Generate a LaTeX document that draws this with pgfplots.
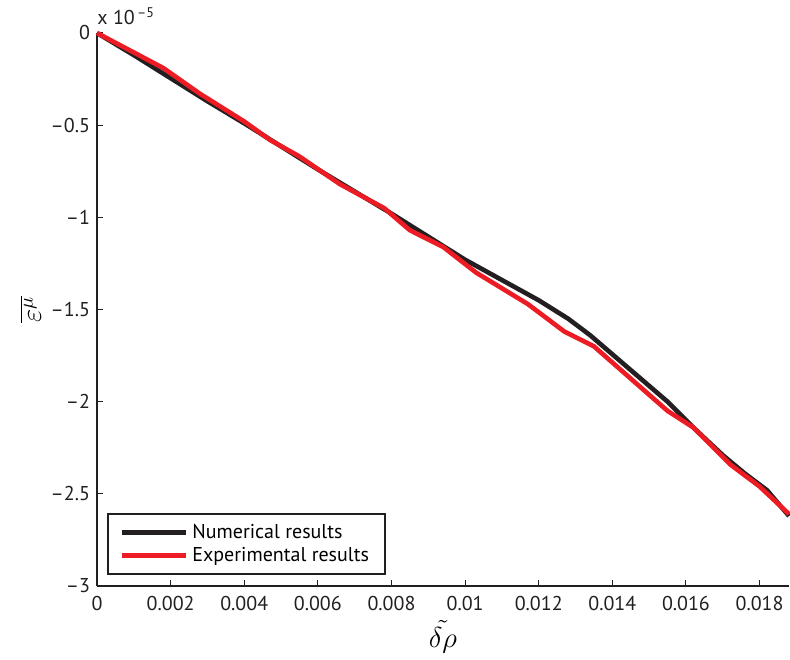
\documentclass[border=0pt]{standalone}
\usepackage{pgfplots}
\pgfplotsset{compat=1.18}
\usepackage{fontspec}
\setmainfont{PT Sans}
\definecolor{numblack}{RGB}{35,31,32}
\definecolor{expred}{RGB}{237,28,36}

% y values in units of 1e-5
\begin{document}
\begin{tikzpicture}
\begin{axis}[
    at={(0,0)}, anchor=south west,
    scale only axis,
    width=346pt, height=276.5pt,
    xmin=0, xmax=0.0188,
    ymin=-3, ymax=0,
    scaled x ticks=false, scaled y ticks=false,
    axis x line=bottom, axis y line=left,
    axis line style={-, numblack, line width=0.6pt},
    tick align=inside,
    major tick length=3pt,
    tick style={numblack, line width=0.5pt},
    xtick={0,0.002,0.004,0.006,0.008,0.01,0.012,0.014,0.016,0.018},
    xticklabels={0,0.002,0.004,0.006,0.008,0.01,0.012,0.014,0.016,0.018},
    ytick={-3,-2.5,-2,-1.5,-1,-0.5,0},
    yticklabels={–3,–2.5,–2,–1.5,–1,–0.5,0},
    ticklabel style={font=\fontsize{10}{12}\selectfont, text=numblack},
    xticklabel style={yshift=-1.5pt},
    xlabel={$\tilde{\delta\rho}$},
    ylabel={$\overline{\varepsilon^{\mu}}$},
    label style={font=\Large},
    xlabel style={yshift=2pt},
    ylabel style={yshift=-2pt},
    legend style={at={(5pt,5.5pt)}, anchor=south west,
        draw=numblack, line width=0.8pt,
        font=\fontsize{10}{12}\selectfont,
        inner xsep=6pt, inner ysep=3pt, row sep=-1pt},
    legend cell align=left,
    legend image code/.code={\draw[#1] (0pt,0pt) -- (32pt,0pt);},
    clip=false
]
\addplot[numblack, line width=2.3pt] coordinates {
    (0,0) (0.0010,-0.12) (0.0020,-0.245) (0.0030,-0.37) (0.0040,-0.49)
    (0.0050,-0.615) (0.0060,-0.74) (0.0070,-0.86) (0.0080,-0.98)
    (0.0090,-1.105) (0.0100,-1.23) (0.0110,-1.34) (0.0120,-1.45)
    (0.0128,-1.55) (0.0134,-1.64) (0.0141,-1.76) (0.0148,-1.88)
    (0.0155,-2.00) (0.0162,-2.14) (0.0170,-2.29) (0.0176,-2.39)
    (0.0182,-2.48) (0.0188,-2.62)
};
\addlegendentry{Numerical results}
\addplot[expred, line width=2.3pt] coordinates {
    (0,0) (0.0018,-0.19) (0.0028,-0.33) (0.0040,-0.48) (0.0047,-0.58)
    (0.0055,-0.67) (0.0066,-0.82) (0.0078,-0.95) (0.0085,-1.07)
    (0.0094,-1.16) (0.0103,-1.30) (0.0117,-1.47) (0.0127,-1.62)
    (0.0135,-1.70) (0.0147,-1.91) (0.0155,-2.05) (0.0162,-2.14)
    (0.0172,-2.34) (0.0180,-2.46) (0.0188,-2.61)
};
\addlegendentry{Experimental results\hspace{5pt}}
\node[anchor=south west, inner sep=0pt, font=\fontsize{10}{12}\selectfont, text=numblack]
    at ([yshift=4pt]axis cs:0,0) {x 10\textsuperscript{\,–5}};
\end{axis}
\pgfresetboundingbox
\path (-48.5pt,-36.5pt) rectangle (346.5pt,293pt);
\end{tikzpicture}
\end{document}
